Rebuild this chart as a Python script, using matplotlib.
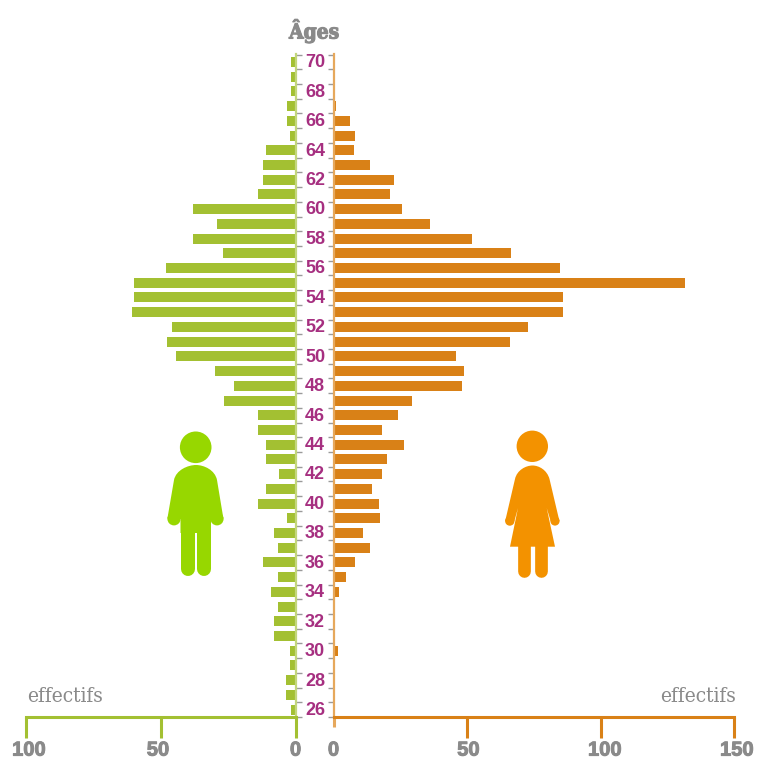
import matplotlib
matplotlib.use("Agg")
import matplotlib.pyplot as plt
import matplotlib.patheffects as pe
from matplotlib.path import Path
from matplotlib.patches import PathPatch, Circle
from matplotlib.transforms import ScaledTranslation

W, H = 757, 760

ages = list(range(70, 25, -1))
men = [1.5, 1.5, 1.5, 3, 3, 2, 11, 12, 12, 14, 38, 29, 38, 27, 48, 60, 60, 60.5, 46, 47.5, 44.5,
       30, 23, 26.5, 14, 14, 11, 11, 6, 11, 14, 3, 8, 6.5, 12, 6.5, 9, 6.5, 8, 8, 2, 2, 3.5, 3.5, 1.5]
women = [0, 0, 0, 1, 6, 8, 7.5, 13.5, 22.5, 21, 25.5, 36, 52, 66.5, 85, 131.5, 86, 86, 73, 66, 46,
         49, 48, 29.5, 24, 18, 26.5, 20, 18, 14.5, 17, 17.5, 11, 13.5, 8, 4.5, 2, 0, 0, 0, 1.5, 0, 0, 0, 0]
men_ticks = [100, 50, 0]
women_ticks = [0, 50, 100, 150]

GREEN = "#A3C032"
ORANGE = "#D98117"
GREEN_LIGHT = "#C3D67C"
ORANGE_LIGHT = "#E6A85C"
GREY = "#8A8A8A"
PURPLE = "#A62F80"
SANS = "Liberation Sans"
SLAB = "DejaVu Serif"

fig = plt.figure(figsize=(W / 100, H / 100), dpi=100, facecolor="white")


def pixel_axes(x0, x1, y_top, y_bottom, **kw):
    return fig.add_axes([x0 / W, 1 - y_bottom / H, (x1 - x0) / W, (y_bottom - y_top) / H], **kw)


# Shared age scale: one year is 14.7 px, the base line sits half a year under age 26.
top_px, base_px = 53.5, 717.0
age_top = 25.5 + (base_px - top_px) / 14.72
ax_m = pixel_axes(26, 295.5, top_px, base_px)
ax_w = pixel_axes(333.5, 734, top_px, base_px)
ax_m.set_xlim(100, 0)
ax_w.set_xlim(0, 150)

ax_m.barh(ages, men, height=0.68, color=GREEN)
ax_w.barh(ages, women, height=0.68, color=ORANGE)

boundaries = [a + 0.5 for a in range(25, 71)]
for ax, side in ((ax_m, "right"), (ax_w, "left")):
    ax.set_ylim(25.5, age_top)
    ax.patch.set_visible(False)
    for name, sp in ax.spines.items():
        sp.set_visible(name == side)
    ax.spines[side].set_color(GREEN_LIGHT if side == "right" else ORANGE_LIGHT)
    ax.spines[side].set_linewidth(1.6)
    ax.yaxis.set_ticks_position(side)
    ax.set_yticks(boundaries)
    ax.set_yticklabels([])
    ax.tick_params(axis="y", direction="out", length=4.5, width=1.0, color="#9A9A9A")
    ax.xaxis.set_ticks_position("bottom")

ax_m.spines["bottom"].set_visible(True)
ax_w.spines["bottom"].set_visible(True)
ax_m.spines["bottom"].set_color(GREEN)
ax_w.spines["bottom"].set_color(ORANGE)
ax_m.spines["bottom"].set_linewidth(2.2)
ax_w.spines["bottom"].set_linewidth(2.2)
ax_m.set_xticks(men_ticks)
ax_w.set_xticks(women_ticks)

heavy = [pe.withStroke(linewidth=0.7, foreground=GREY)]
label_shift = {ax_m: [2, -2, 0], ax_w: [0, 1, 3, 2]}
for ax, col in ((ax_m, GREEN), (ax_w, ORANGE)):
    ax.tick_params(axis="x", direction="out", length=15, width=2.2, color=col, pad=2,
                   labelcolor=GREY)
    for lab, dx in zip(ax.get_xticklabels(), label_shift[ax]):
        lab.set_fontfamily(SANS)
        lab.set_fontweight("bold")
        lab.set_fontsize(14.5)
        lab.set_path_effects(heavy)
        lab.set_transform(lab.get_transform() + ScaledTranslation(dx / 72, 0, fig.dpi_scale_trans))

# Shorter, paler stub under the women's zero.
ax_w.xaxis.get_major_ticks()[0].tick1line.set_markersize(7)
ax_w.xaxis.get_major_ticks()[0].tick1line.set_markeredgecolor(ORANGE_LIGHT)

# Page-level layer in pixel units for the labels and the two figures.
page = fig.add_axes([0, 0, 1, 1], zorder=5)
page.set_xlim(0, W)
page.set_ylim(H, 0)
page.axis("off")

for a in ages:
    if a % 2 == 0:
        y = ax_m.transData.transform((0, a))[1]
        page.text(315, H - y + 0.8, str(a), ha="center", va="center", color=PURPLE,
                  fontfamily=SANS, fontweight="bold", fontsize=13)

page.text(314, 31, "Âges", ha="center", va="center", color=GREY, fontfamily=SLAB,
          fontstretch="condensed", fontweight="bold", fontsize=15,
          path_effects=[pe.withStroke(linewidth=0.8, foreground=GREY)])
page.text(65, 697, "effectifs", ha="center", va="center", color=GREY, fontfamily=SLAB,
          fontstretch="condensed", fontsize=15)
page.text(698, 697, "effectifs", ha="center", va="center", color=GREY, fontfamily=SLAB,
          fontstretch="condensed", fontsize=15)


def outline(points):
    codes = [Path.MOVETO]
    verts = [points[0]]
    for kind, *pts in points[1:]:
        verts.extend(pts)
        codes.extend({"L": [Path.LINETO], "C": [Path.CURVE4] * 3}[kind])
    codes.append(Path.CLOSEPOLY)
    verts.append(points[0])
    return Path(verts, codes)


def limb(x0, y0, x1, y1, w, color):
    page.plot([x0, x1], [y0, y1], color=color, lw=w * 72 / 100, solid_capstyle="round")


# Man
MAN = "#97D700"
page.add_patch(Circle((195.7, 447.3), 15.8, fc=MAN, ec="none"))
body = outline([(174, 480),
                ("C", (176, 470), (188, 465), (196, 465)),
                ("C", (204, 465), (215, 470), (217, 480)),
                ("L", (223.4, 518.5)), ("L", (211, 519)),
                ("L", (211, 533)), ("L", (180.5, 533)), ("L", (180.5, 519)),
                ("L", (167.4, 518.5))])
page.add_patch(PathPatch(body, fc=MAN, ec="none"))
page.add_patch(Circle((174, 518.8), 6.6, fc=MAN, ec="none"))
page.add_patch(Circle((217, 518.8), 6.6, fc=MAN, ec="none"))
limb(187.5, 528, 187.5, 569, 14, MAN)
limb(204, 528, 204, 569, 14, MAN)

# Woman
WOMAN = "#F39200"
page.add_patch(Circle((532.3, 446.3), 15.7, fc=WOMAN, ec="none"))
dress = outline([(515, 479),
                 ("C", (517, 470), (526, 465.5), (532.5, 465.5)),
                 ("C", (539, 465.5), (547, 470), (549.5, 479)),
                 ("L", (559.4, 521)), ("L", (550.6, 521)), ("L", (546.7, 508)),
                 ("L", (555, 546.7)), ("L", (510, 546.7)), ("L", (518, 508)),
                 ("L", (514.4, 521)), ("L", (505.2, 521))])
page.add_patch(PathPatch(dress, fc=WOMAN, ec="none"))
page.add_patch(Circle((509.8, 521), 4.7, fc=WOMAN, ec="none"))
page.add_patch(Circle((555, 521), 4.6, fc=WOMAN, ec="none"))
limb(523.7, 543, 523.7, 571, 12.7, WOMAN)
limb(540.7, 543, 540.7, 571, 12.7, WOMAN)

fig.savefig("out.png", dpi=100, facecolor="white")
